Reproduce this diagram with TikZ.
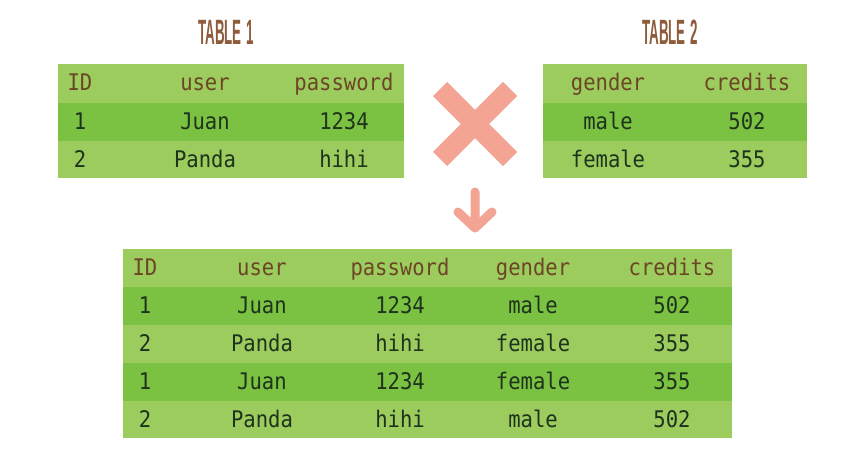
\documentclass[tikz,border=0pt]{standalone}
\usepackage{fontspec}
\setmainfont{Liberation Sans}
\newfontfamily\cellfont{DejaVu Sans Mono}[FakeStretch=0.9]
\newfontfamily\titlefont{Liberation Sans}[FakeStretch=0.38]
\usetikzlibrary{positioning}
\definecolor{lightgreen}{HTML}{9CCB5E}
\definecolor{darkgreen}{HTML}{7BC142}
\definecolor{headbrown}{HTML}{6B4526}
\definecolor{titlebrown}{HTML}{8E5B3B}
\definecolor{celltext}{HTML}{1D331C}
\definecolor{salmon}{HTML}{F4A493}
\tikzset{
	head/.style={font=\cellfont\fontsize{13}{14}\selectfont, text=headbrown,
		text height=1.6ex, text depth=.35ex, inner sep=0pt, yshift=-0.04cm},
	cell/.style={head, text=celltext},
	tabletitle/.style={font=\titlefont\bfseries\fontsize{20}{20}\selectfont, text=titlebrown}
}

\begin{document}
\begin{tikzpicture}[x=0.02cm,y=-0.02cm]
		\useasboundingbox[fill=white] (0,0) rectangle (866,456);
		% titles
		\node[tabletitle] (title1) at (226,32) {TABLE\kern2.5pt 1};
		\node[tabletitle] (title2) at (670,32) {TABLE\kern2.5pt 2};
		% table 1
		\fill[lightgreen] (58,64) rectangle (404,178);
		\fill[darkgreen] (58,103) rectangle (404,141);
		\foreach \x/\txt [count=\i] in {80/ID,205/user,344/password}
			\node[head] (t1h\i) at (\x,83) {\txt};
		\foreach \y/\a/\b/\c [count=\r] in {122/1/Juan/1234,160/2/Panda/hihi}{
			\node[cell] (t1r\r-id) at (80,\y) {\a};
			\node[cell] (t1r\r-user) at (205,\y) {\b};
			\node[cell] (t1r\r-pw) at (344,\y) {\c};
		}
		% table 2
		\fill[lightgreen] (543,64) rectangle (807,178);
		\fill[darkgreen] (543,103) rectangle (807,141);
		\node[head] (t2h1) at (608,83) {gender};
		\node[head] (t2h2) at (747,83) {credits};
		\foreach \y/\a/\b [count=\r] in {122/male/502,160/female/355}{
			\node[cell] (t2r\r-gender) at (608,\y) {\a};
			\node[cell] (t2r\r-credits) at (747,\y) {\b};
		}
		% cross
		\draw[salmon, line width=0.4cm] (440,89) -- (510,159) (440,159) -- (510,89);
		% arrow
		\coordinate (arrowtop) at (475,192);
		\coordinate (arrowtip) at (475,228);
		\draw[salmon, line width=0.18cm, line cap=round, line join=round]
		(arrowtop) -- (arrowtip) (458,212) -- (arrowtip) -- (492,212);
		% result table
		\fill[lightgreen] (123,249) rectangle (732,438);
		\fill[darkgreen] (123,287) rectangle (732,325);
		\fill[darkgreen] (123,363) rectangle (732,401);
		\foreach \x/\txt [count=\i] in {145/ID,262/user,400/password,533/gender,672/credits}
			\node[head] (rh\i) at (\x,268) {\txt};
		\foreach \y/\a/\b/\c/\d/\e [count=\r] in
			{306/1/Juan/1234/male/502, 344/2/Panda/hihi/female/355,
			 382/1/Juan/1234/female/355, 420/2/Panda/hihi/male/502}{
			\node[cell] (rr\r-id) at (145,\y) {\a};
			\node[cell] (rr\r-user) at (262,\y) {\b};
			\node[cell] (rr\r-pw) at (400,\y) {\c};
			\node[cell] (rr\r-gender) at (533,\y) {\d};
			\node[cell] (rr\r-credits) at (672,\y) {\e};
		}
	\end{tikzpicture}
\end{document}
